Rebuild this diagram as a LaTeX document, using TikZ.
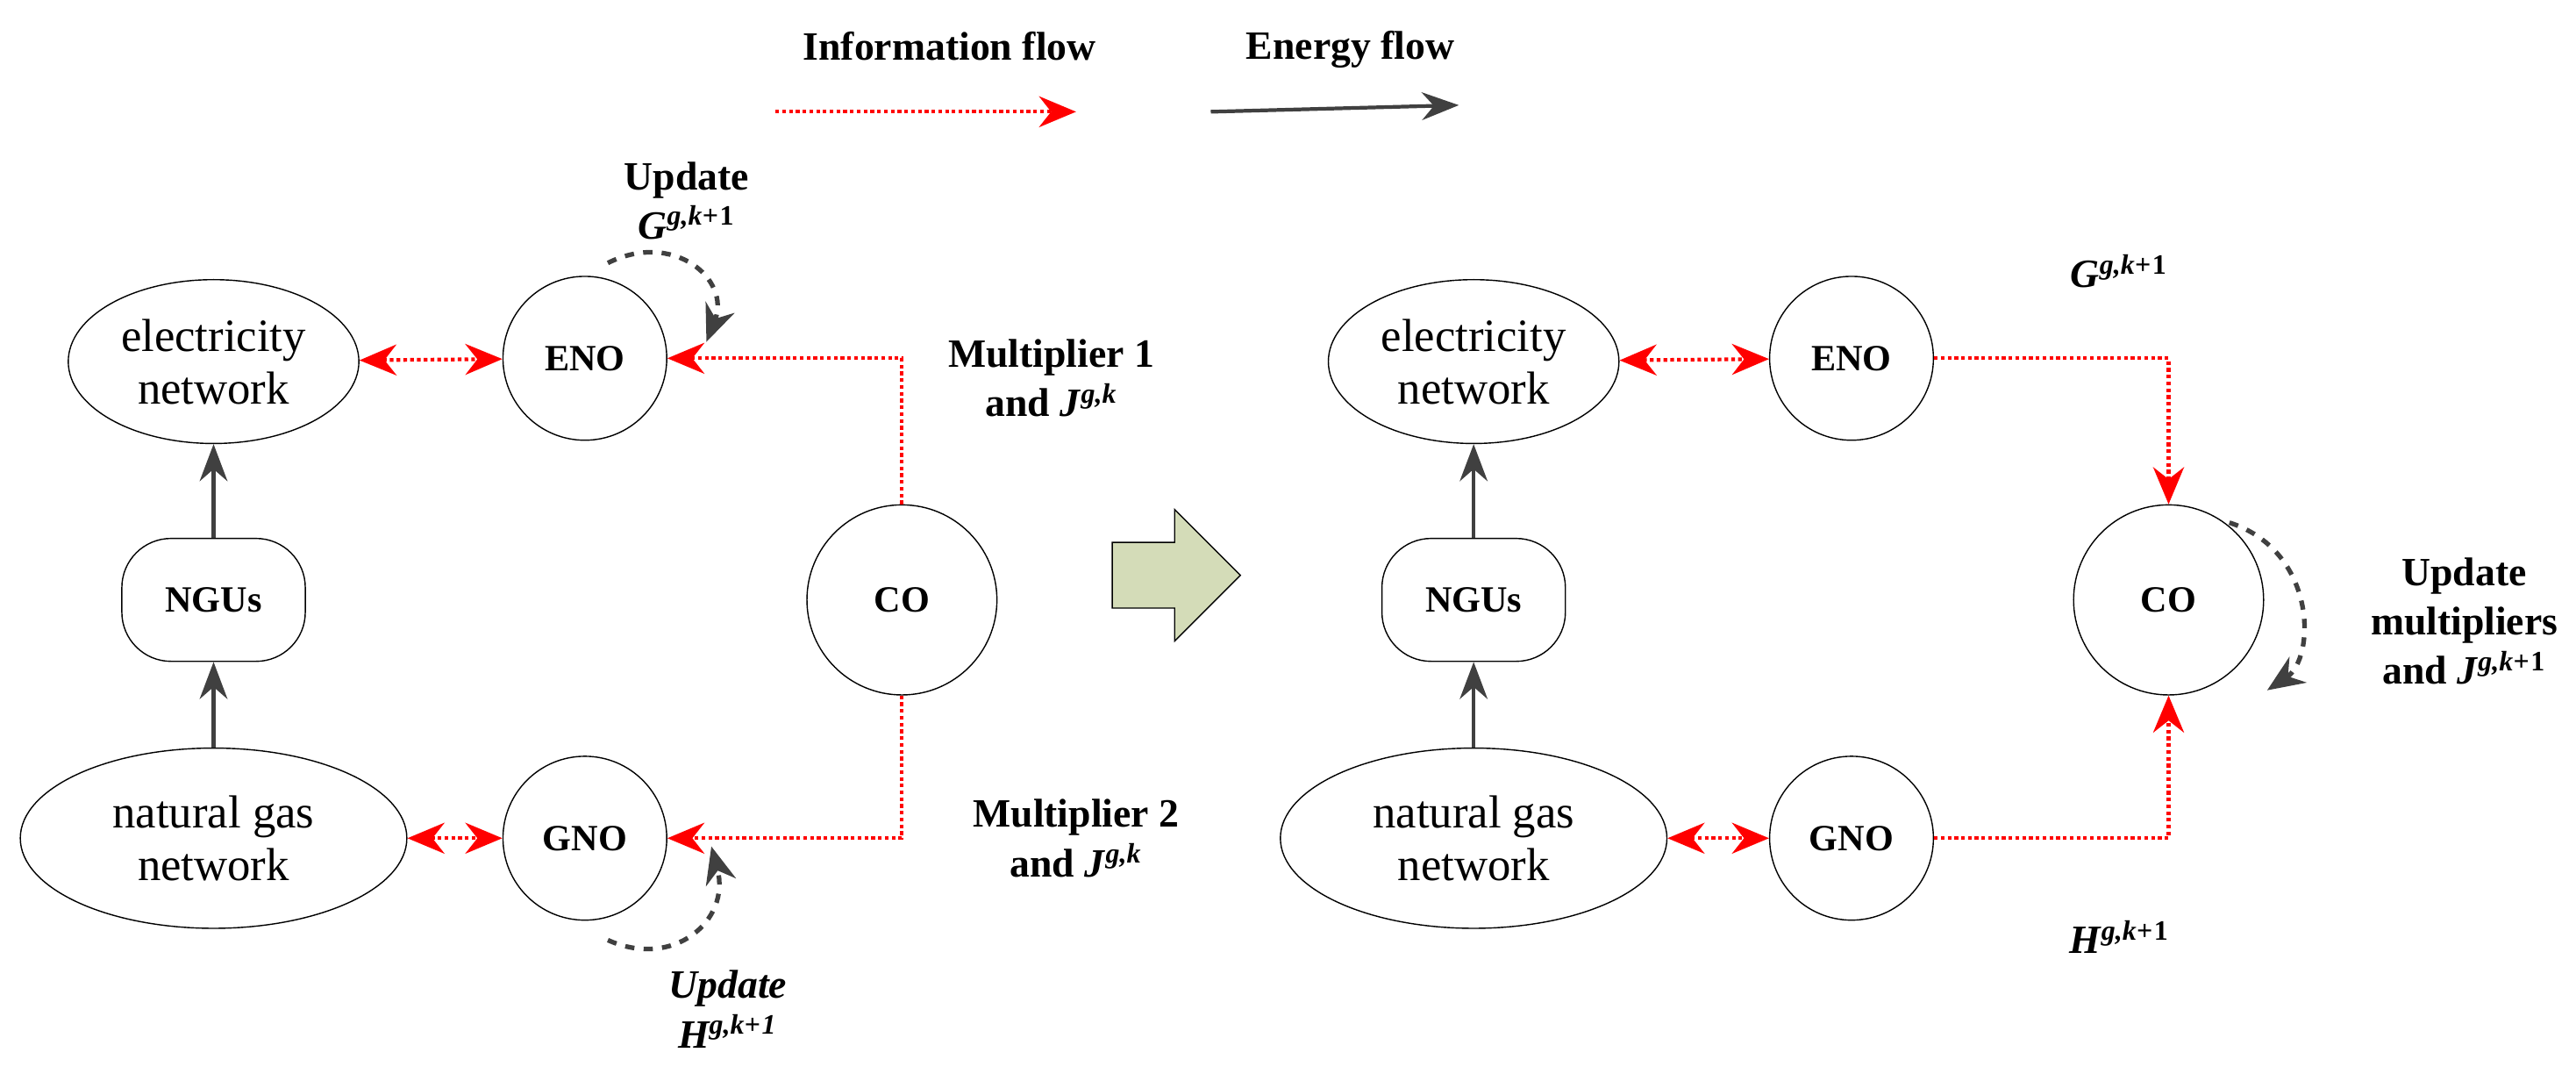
\documentclass[tikz,border=0pt]{standalone}
\usepackage{fontspec}
\setmainfont{Liberation Serif}
\usetikzlibrary{arrows.meta,shapes.geometric}
\newcommand{\dpx}{pt*0.5311}
\newcommand{\symb}[2]{\textbf{\textit{#1}\textsuperscript{\textit{#2}}}}
\tikzset{
  net/.style={ellipse,draw,thin,minimum width=176\dpx,minimum height=100\dpx,align=center,font=\fontsize{15}{17}\selectfont},
  op/.style={circle,draw,thin,minimum size=100\dpx,font=\bfseries\fontsize{12}{14}\selectfont},
  ngu/.style={rectangle,rounded corners=30\dpx,draw,thin,minimum width=112\dpx,minimum height=75\dpx,font=\bfseries\fontsize{12}{14}\selectfont},
  info/.style={red,densely dotted,line width=1.2pt,-{Stealth[length=12pt,width=10pt]}},
  infob/.style={info,{Stealth[length=12pt,width=10pt]}-{Stealth[length=12pt,width=10pt]}},
  energy/.style={black!75,line width=1.2pt,-{Stealth[length=12pt,width=9pt]}},
  loop/.style={black!75,dashed,line width=1.5pt,-{Stealth[length=12pt,width=10pt]}},
  lbl/.style={font=\bfseries\fontsize{13}{16}\selectfont,align=center}
}
\begin{document}
\begin{tikzpicture}[x=0.01873cm,y=-0.01873cm]
\useasboundingbox (0,0) rectangle (1568,653);
% legend
\node[lbl] (linfo) at (578,28) {Information flow};
\node[lbl] (lenergy) at (822,30) {Energy flow};
\coordinate (i1) at (472,68); \coordinate (i2) at (655,68);
\coordinate (e1) at (737,68); \coordinate (e2) at (888,64);
\draw[info] (i1) -- (i2);
\draw[energy] (e1) -- (e2);
% left part
\node[net] (elec1) at (130,220) {electricity\\network};
\node[op] (eno1) at (356,218) {ENO};
\node[ngu] (ngu1) at (130,365) {NGUs};
\node[net,minimum width=236\dpx,minimum height=110\dpx] (gas1) at (130,510) {natural gas\\network};
\node[op] (gno1) at (356,510) {GNO};
\node[op,minimum size=116\dpx] (co1) at (549,365) {CO};
\draw[infob] (elec1) -- (eno1);
\draw[infob] (gas1) -- (gno1);
\draw[info] (co1.north) |- (eno1.east);
\draw[info] (co1.south) |- (gno1.east);
\draw[energy] (ngu1.north) -- (elec1.south);
\draw[energy] (gas1.north) -- (ngu1.south);
\draw[loop] (370,160) .. controls (410,140) and (445,170) .. (430,208);
\draw[loop] (370,572) .. controls (410,590) and (445,560) .. (433,515);
\node[lbl] (upd1) at (418,122) {Update\\\symb{G}{g,k+}\textbf{\textsuperscript{1}}};
\node[lbl,font=\bfseries\itshape\fontsize{13}{16}\selectfont] (upd2) at (443,614) {Update\\\symb{H}{g,k+}\textbf{\textsuperscript{1}}};
\node[lbl] (mul1) at (640,230) {Multiplier 1\\and \symb{J}{g,k}};
\node[lbl] (mul2) at (655,510) {Multiplier 2\\and \symb{J}{g,k}};
% transition arrow
\draw[thin,fill={rgb,255:red,212;green,220;blue,184}] (677,330) -- (715,330) -- (715,310) -- (755,350) -- (715,390) -- (715,370) -- (677,370) -- cycle;
% right part
\node[net] (elec2) at (897,220) {electricity\\network};
\node[op] (eno2) at (1127,218) {ENO};
\node[ngu] (ngu2) at (897,365) {NGUs};
\node[net,minimum width=236\dpx,minimum height=110\dpx] (gas2) at (897,510) {natural gas\\network};
\node[op] (gno2) at (1127,510) {GNO};
\node[op,minimum size=116\dpx] (co2) at (1320,365) {CO};
\draw[infob] (elec2) -- (eno2);
\draw[infob] (gas2) -- (gno2);
\draw[info] (eno2.east) -| (co2.north);
\draw[info] (gno2.east) -| (co2.south);
\draw[energy] (ngu2.north) -- (elec2.south);
\draw[energy] (gas2.north) -- (ngu2.south);
\draw[loop] (1357,318) .. controls (1410,335) and (1410,400) .. (1380,420);
\node[lbl] (gk) at (1290,165) {\symb{G}{g,k+}\textbf{\textsuperscript{1}}};
\node[lbl] (hk) at (1290,570) {\symb{H}{g,k+}\textbf{\textsuperscript{1}}};
\node[lbl] (upd3) at (1500,378) {Update\\multipliers\\and \symb{J}{g,k+}\textbf{\textsuperscript{1}}};
\end{tikzpicture}
\end{document}
